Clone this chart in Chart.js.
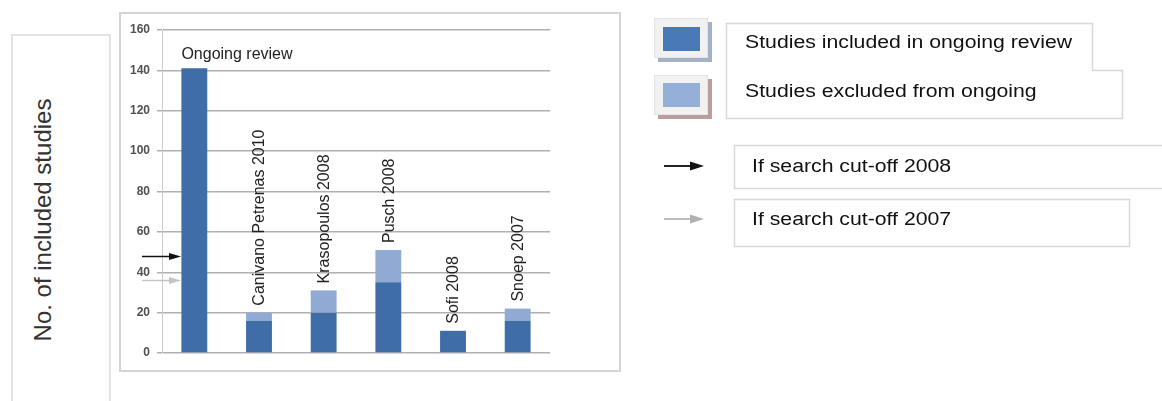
<!DOCTYPE html>
<html>
<head>
<meta charset="utf-8">
<title>Included studies</title>
<script src="https://cdn.jsdelivr.net/npm/chart.js@4/dist/chart.umd.min.js"></script>
<style>
  html, body { margin: 0; padding: 0; background: #fff; }
  body { width: 1162px; height: 401px; position: relative; overflow: hidden;
         font-family: "Liberation Sans", Arial, sans-serif; color: #222; }
  .abs { position: absolute; box-sizing: border-box; }
  #ytitleBox { left: 11px; top: 34px; width: 100px; height: 420px; border: 2px solid #e3e3e3; }
  #ytitle { position: absolute; left: 43px; top: 220px; white-space: nowrap; font-size: 24px; color: #333;
            transform: translate(-50%, -50%) rotate(-90deg); }
  #chartFrame { left: 119px; top: 12px; width: 502px; height: 360px; border: 2px solid #d4d4d4; pointer-events: none; }
  #chartWrap { left: 119px; top: 12px; width: 501px; height: 359px; }
  .swShadow { position: absolute; width: 54px; height: 40px; }
  .swBox { position: absolute; width: 54px; height: 40px; background: #f1f1f1; border: 1px solid #e4e4e4; box-sizing: border-box; }
  .swFill { position: absolute; width: 37px; height: 24px; }
  .ltext { position: absolute; white-space: nowrap; font-size: 18px; color: #111; line-height: 1;
           transform: translateY(-50%) scaleX(1.18); transform-origin: 0 50%; }
  .lbox { position: absolute; border: 1.5px solid #d8d8d8; box-sizing: border-box; background: #fff; }
</style>
</head>
<body>
<div id="ytitleBox" class="abs"></div>
<div id="ytitle">No. of included studies</div>

<div id="chartWrap" class="abs"><canvas id="chart" width="501" height="359"></canvas></div>
<div id="chartFrame" class="abs"></div>

<!-- series key -->
<div class="swShadow" style="left:658px;top:22px;background:#a3b2c6;"></div>
<div class="swBox" style="left:654px;top:18px;"></div>
<div class="swFill" style="left:663px;top:27px;background:#4a79b7;"></div>
<div class="swShadow" style="left:658px;top:79px;background:#bc9d9d;"></div>
<div class="swBox" style="left:654px;top:75px;"></div>
<div class="swFill" style="left:663px;top:83px;background:#94b0d8;"></div>

<svg class="abs" style="left:0;top:0;" width="1162" height="401">
  <path d="M726.5 23.5 H1092.5 V70.5 H1122.5 V118.5 H726.5 Z" fill="none" stroke="#d8d8d8" stroke-width="1.5"/>
  <rect x="734.5" y="145.5" width="440" height="43" fill="none" stroke="#d8d8d8" stroke-width="1.5"/>
  <rect x="734.5" y="199.5" width="395" height="47" fill="none" stroke="#d8d8d8" stroke-width="1.5"/>
  <!-- cut-off arrows -->
  <line x1="664" y1="166" x2="692" y2="166" stroke="#222" stroke-width="2"/>
  <polygon points="690,161.5 704,166 690,170.5" fill="#111"/>
  <line x1="664" y1="219" x2="692" y2="219" stroke="#bdbdbd" stroke-width="2"/>
  <polygon points="690,214.5 704,219 690,223.5" fill="#b0b0b0"/>
</svg>
<div class="ltext" style="left:745px;top:42px;">Studies included in ongoing review</div>
<div class="ltext" style="left:745px;top:91px;">Studies excluded from ongoing</div>
<div class="ltext" style="left:752px;top:166px;">If search cut-off 2008</div>
<div class="ltext" style="left:752px;top:219px;">If search cut-off 2007</div>

<script>
// Studies: the ongoing review followed by earlier reviews
const studies = ['Ongoing review', 'Canivano Petrenas 2010', 'Krasopoulos 2008', 'Pusch 2008', 'Sofi 2008', 'Snoep 2007'];
// Number of studies that are also in the ongoing review
const included = [141, 16, 20, 35, 11, 16];
// Number of studies not in the ongoing review
const excluded = [0, 4, 11, 16, 0, 6];
// Size of the ongoing review under earlier search cut-offs
const cutoff2008 = 48;
const cutoff2007 = 36;
// Value axis
const yMin = 0;
const yMax = 160;
const yStep = 20;

const FONT = '"Liberation Sans", Arial, sans-serif';

// Names above each bar and the cut-off arrows on the value axis
const annotations = {
  id: 'annotations',
  afterDatasetsDraw(chart) {
    const ctx = chart.ctx;
    const y = chart.scales.y;
    const metaInc = chart.getDatasetMeta(0);
    const area = chart.chartArea;

    ctx.save();
    ctx.fillStyle = '#222';
    ctx.font = '16px ' + FONT;
    studies.forEach((name, i) => {
      const bar = metaInc.data[i];
      const top = y.getPixelForValue(included[i] + excluded[i]);
      if (i === 0) {
        ctx.textAlign = 'left';
        ctx.textBaseline = 'middle';
        ctx.fillText(name, bar.x - bar.width / 2, top - 14);
      } else {
        ctx.save();
        ctx.translate(bar.x + 1, top - 7);
        ctx.rotate(-Math.PI / 2);
        ctx.textAlign = 'left';
        ctx.textBaseline = 'middle';
        ctx.fillText(name, 0, 0);
        ctx.restore();
      }
    });

    const arrow = (value, color) => {
      const py = Math.round(y.getPixelForValue(value)) + 0.5;
      const x0 = area.left - 20;
      const x1 = area.left + 19;
      ctx.strokeStyle = color;
      ctx.fillStyle = color;
      ctx.lineWidth = 1.5;
      ctx.beginPath();
      ctx.moveTo(x0, py);
      ctx.lineTo(x1 - 10, py);
      ctx.stroke();
      ctx.beginPath();
      ctx.moveTo(x1 - 12, py - 3.5);
      ctx.lineTo(x1, py);
      ctx.lineTo(x1 - 12, py + 3.5);
      ctx.closePath();
      ctx.fill();
    };
    arrow(cutoff2007, '#c4c4c4');
    arrow(cutoff2008, '#111');
    ctx.restore();
  }
};

new Chart(document.getElementById('chart'), {
  type: 'bar',
  data: {
    labels: studies,
    datasets: [
      { label: 'Studies included in ongoing review', data: included, backgroundColor: '#3f6da8', borderWidth: 0 },
      { label: 'Studies excluded from ongoing', data: excluded, backgroundColor: '#91aad4', borderWidth: 0 }
    ]
  },
  options: {
    responsive: false,
    animation: false,
    devicePixelRatio: 1,
    layout: { padding: { left: 0, right: 70, top: 18, bottom: 18 } },
    datasets: { bar: { categoryPercentage: 1, barPercentage: 0.4 } },
    plugins: { legend: { display: false }, tooltip: { enabled: false } },
    scales: {
      x: { stacked: true, display: false },
      y: {
        stacked: true,
        min: yMin,
        max: yMax,
        ticks: { stepSize: yStep, padding: 7, color: '#505050', font: { family: FONT, size: 12, weight: 'bold' } },
        grid: { color: '#b0b0b0', lineWidth: 1.5, tickLength: 5, drawTicks: true },
        border: { display: true, color: '#cccccc', width: 1 },
        afterFit(scale) { scale.width = 43; }
      }
    }
  },
  plugins: [annotations]
});
</script>
</body>
</html>
